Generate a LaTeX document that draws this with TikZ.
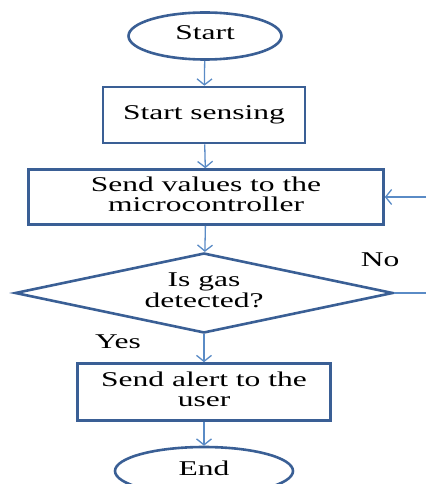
\documentclass[tikz,border=0pt]{standalone}
\usepackage{fontspec}
\setmainfont{Liberation Serif}
\usepackage{graphicx}
\usetikzlibrary{shapes.geometric,arrows.meta}
\definecolor{bord}{HTML}{3A5F95}
\definecolor{arr}{HTML}{5A8BC6}
\newcommand{\tx}[1]{\scalebox{1.5}[1]{\begin{tabular}{@{}c@{}}#1\end{tabular}}}
\begin{document}
\begin{tikzpicture}[x=1pt,y=-1pt,
  every node/.style={font=\fontsize{21}{20}\selectfont, inner sep=0pt},
  procbox/.style={draw=bord, line width=2.6pt, rectangle},
  term/.style={draw=bord, line width=2.6pt, ellipse},
  decis/.style={draw=bord, line width=2.6pt, diamond, aspect=4.7},
  flow/.style={draw=arr, line width=1.3pt, -{Straight Barb[length=6pt,width=15pt]}},
  plain/.style={draw=arr, line width=1.3pt}]
\useasboundingbox (0,0) rectangle (426,484);
\node[term, minimum width=153pt, minimum height=47pt] (start) at (205,36) {\tx{Start}};
\node[procbox, minimum width=202pt, minimum height=56pt] (sense) at (204,115) {\tx{Start sensing}};
\node[procbox, minimum width=355pt, minimum height=55pt] (send) at (206,197) {\tx{Send values to the\\microcontroller}};
\node[decis, minimum width=378pt, minimum height=80pt] (dec) at (204,293) {\tx{Is gas\\detected?}};
\node[procbox, minimum width=253pt, minimum height=57pt] (alert) at (204,392) {\tx{Send alert to the\\user}};
\node[term, minimum width=178pt, minimum height=48pt] (end) at (204,471) {\tx{End}};
\node (no) at (380,262) {\tx{No}};
\node (yes) at (118,344) {\tx{Yes}};
\coordinate (r1) at (426,293);
\coordinate (r2) at (426,197);
\draw[flow] (start) -- (sense);
\draw[flow] (sense) -- (send);
\draw[flow] (send) -- (dec);
\draw[flow] (dec) -- (alert);
\draw[flow] (alert) -- (end);
\draw[plain] (dec.east) -- (r1);
\draw[flow] (r2) -- (send.east);
\end{tikzpicture}
\end{document}
